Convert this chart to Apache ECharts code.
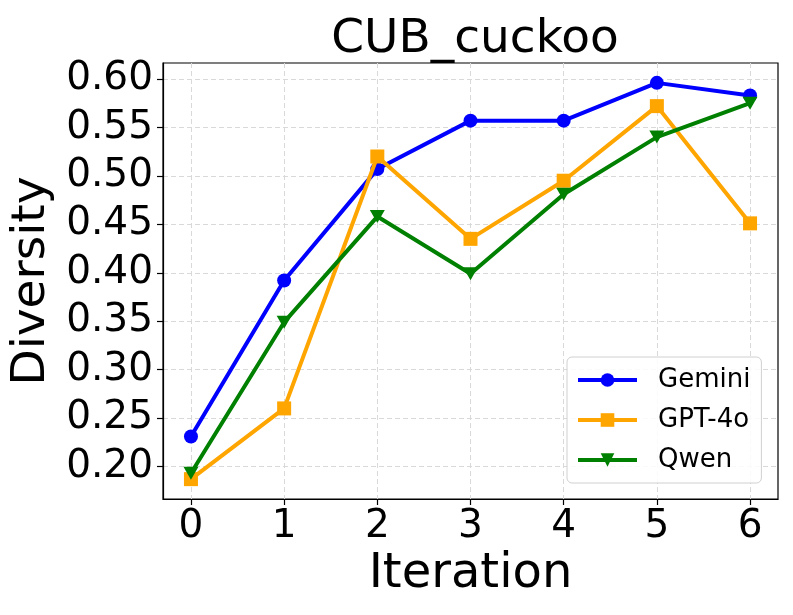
<!DOCTYPE html>
<html>
<head>
<meta charset="utf-8">
<script src="https://cdn.jsdelivr.net/npm/echarts@6/dist/echarts.min.js"></script>
<style>html,body{margin:0;padding:0;background:#fff}#c{width:793px;height:615px}</style>
</head>
<body>
<div id="c"></div>
<script>
const iterations = [0, 1, 2, 3, 4, 5, 6];
const gemini = [0.231, 0.392, 0.507, 0.557, 0.557, 0.596, 0.583];
const gpt4o  = [0.187, 0.260, 0.520, 0.435, 0.495, 0.572, 0.451];
const qwen   = [0.193, 0.349, 0.458, 0.399, 0.481, 0.540, 0.575];
const xTicks = [0, 1, 2, 3, 4, 5, 6];
const yTicks = [0.20, 0.25, 0.30, 0.35, 0.40, 0.45, 0.50, 0.55, 0.60];
const seriesNames = ['Gemini', 'GPT-4o', 'Qwen'];
const titleText = 'CUB_cuckoo';

const FONT = 'DejaVu Sans';
const chart = echarts.init(document.getElementById('c'), null, {renderer: 'canvas'});

function pairs(vals) { return iterations.map((x, i) => [x, vals[i]]); }

const option = {
  backgroundColor: '#fff',
  animation: false,
  title: {
    text: titleText,
    left: 470, top: 11,
    textAlign: 'center',
    textStyle: {fontFamily: FONT, fontSize: 47, fontWeight: 'normal', color: '#000'}
  },
  grid: {left: 163, right: 15, top: 63, bottom: 116, show: true, borderColor: '#000', borderWidth: 1.2, backgroundColor: 'transparent'},
  legend: {
    orient: 'vertical',
    left: 567, top: 357,
    data: seriesNames,
    itemWidth: 59, itemHeight: 17, itemGap: 10,
    padding: [8, 11, 8, 9],
    borderColor: '#d0d0d0', borderWidth: 1, borderRadius: 5,
    backgroundColor: 'rgba(255,255,255,0.85)',
    lineStyle: {width: 4},
    textStyle: {fontFamily: FONT, fontSize: 26, color: '#000', lineHeight: 30, padding: [0, 0, 0, 16]}
  },
  xAxis: {
    type: 'value', min: -0.3, max: 6.3,
    name: 'Iteration', nameLocation: 'middle', nameGap: 47,
    nameTextStyle: {fontFamily: FONT, fontSize: 48, color: '#000'},
    axisLine: {show: true, onZero: false, lineStyle: {color: '#000', width: 1.2}},
    axisTick: {show: true, inside: false, length: 6, customValues: xTicks, lineStyle: {color: '#000', width: 1.2}},
    axisLabel: {customValues: xTicks, margin: 8, fontFamily: FONT, fontSize: 39, color: '#000', formatter: v => String(v)},
    splitLine: {show: true, lineStyle: {color: '#d9d9d9', type: [5, 3], width: 1}}
  },
  yAxis: {
    type: 'value', min: 0.1665, max: 0.6165,
    name: 'Diversity', nameLocation: 'middle', nameGap: 102, nameRotate: 90,
    nameTextStyle: {fontFamily: FONT, fontSize: 47, color: '#000'},
    axisLine: {show: true, onZero: false, lineStyle: {color: '#000', width: 1.2}},
    axisTick: {show: true, inside: false, length: 6, customValues: yTicks, lineStyle: {color: '#000', width: 1.2}},
    axisLabel: {customValues: yTicks, margin: 10, fontFamily: FONT, fontSize: 39, color: '#000', formatter: v => v.toFixed(2)},
    splitLine: {show: true, lineStyle: {color: '#d9d9d9', type: [5, 3], width: 1}}
  },
  series: [
    {name: seriesNames[0], type: 'line', data: pairs(gemini), color: '#0000ff',
     symbol: 'circle', symbolSize: 14, lineStyle: {width: 4}, itemStyle: {color: '#0000ff'}, z: 3},
    {name: seriesNames[1], type: 'line', data: pairs(gpt4o), color: '#ffa500',
     symbol: 'rect', symbolSize: 14, lineStyle: {width: 4}, itemStyle: {color: '#ffa500'}, z: 4},
    {name: seriesNames[2], type: 'line', data: pairs(qwen), color: '#008000',
     symbol: 'triangle', symbolRotate: 180, symbolSize: [15, 13], lineStyle: {width: 4}, itemStyle: {color: '#008000'}, z: 5}
  ]
};
chart.setOption(option);
</script>
</body>
</html>
